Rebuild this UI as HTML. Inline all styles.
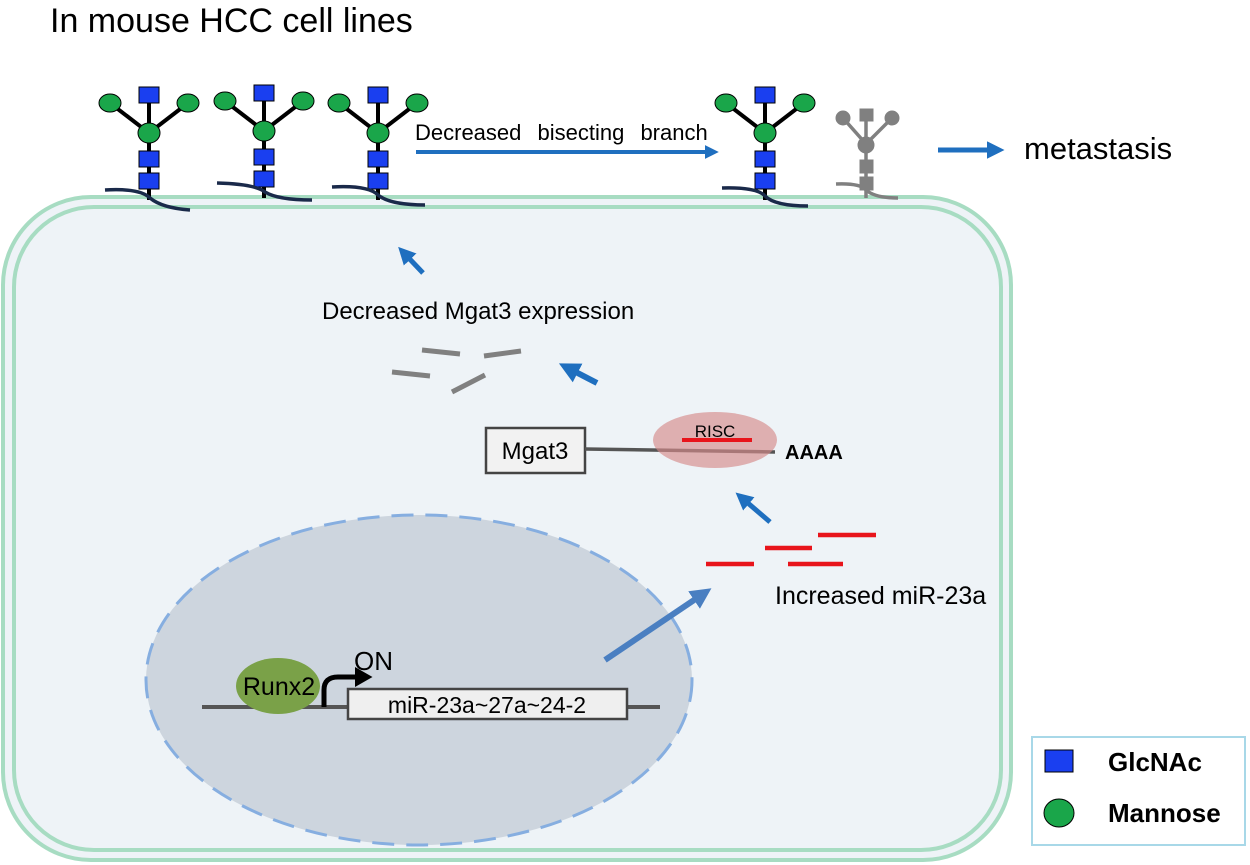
<!DOCTYPE html>
<html><head><style>body{margin:0;background:#fff}svg{display:block}text{font-family:"Liberation Sans",sans-serif}</style></head><body>
<svg width="1250" height="865" viewBox="0 0 1250 865" xmlns="http://www.w3.org/2000/svg">
<defs>
<marker id="ah" markerWidth="3.5" markerHeight="3.5" refX="1.8" refY="1.75" orient="auto" markerUnits="strokeWidth"><path d="M0,0 L3.5,1.75 L0,3.5 z" fill="#1f6fbf"/></marker>
<marker id="ah2" markerWidth="3.5" markerHeight="3.5" refX="1.8" refY="1.75" orient="auto" markerUnits="strokeWidth"><path d="M0,0 L3.5,1.75 L0,3.5 z" fill="#4a7fc1"/></marker>
<marker id="bk" markerWidth="4" markerHeight="4" refX="1" refY="2" orient="auto" markerUnits="strokeWidth"><path d="M0,0 L3.5,2 L0,4 z" fill="#000"/></marker>
<g id="gly">
<line x1="0" y1="95" x2="0" y2="200" stroke="#000" stroke-width="4"/>
<line x1="-39" y1="103" x2="0" y2="133" stroke="#000" stroke-width="4"/>
<line x1="39" y1="103" x2="0" y2="133" stroke="#000" stroke-width="4"/>
<rect x="-10" y="87" width="20" height="16" fill="#1a3ff0" stroke="#000" stroke-width="1"/>
<ellipse cx="-39" cy="103" rx="11" ry="9" fill="#1aa64a" stroke="#000" stroke-width="1"/>
<ellipse cx="39" cy="103" rx="11" ry="9" fill="#1aa64a" stroke="#000" stroke-width="1"/>
<ellipse cx="0" cy="133" rx="11" ry="10" fill="#1aa64a" stroke="#000" stroke-width="1"/>
<rect x="-10" y="151" width="20" height="16" fill="#1a3ff0" stroke="#000" stroke-width="1"/>
<rect x="-10" y="173" width="20" height="16" fill="#1a3ff0" stroke="#000" stroke-width="1"/>
</g>
</defs>
<text x="50" y="32" font-size="34" fill="#000">In mouse HCC cell lines</text>
<rect x="3" y="197" width="1008" height="663" rx="88" fill="#eef3f7" stroke="#a7dcc2" stroke-width="4"/>
<rect x="14" y="207" width="987" height="643" rx="80" fill="none" stroke="#a7dcc2" stroke-width="4"/>
<use href="#gly" x="149"/>
<use href="#gly" x="264" y="-2"/>
<use href="#gly" x="378"/>
<use href="#gly" x="765"/>
<g fill="none" stroke="#1a2a4a" stroke-width="3.5">
<path d="M105,190 Q140,188 150,198 Q162,208 190,210"/>
<path d="M217,183 Q255,184 265,192 Q278,200 312,200"/>
<path d="M332,187 Q368,185 378,195 Q390,205 425,205"/>
<path d="M722,188 Q757,187 765,196 Q775,206 808,206"/>
</g>
<g stroke="#808080" fill="#808080">
<line x1="866" y1="115" x2="866" y2="198" stroke-width="3.5"/>
<line x1="843" y1="118" x2="866" y2="144" stroke-width="3.5"/>
<line x1="892" y1="118" x2="866" y2="144" stroke-width="3.5"/>
<rect x="860" y="109" width="13" height="12"/>
<circle cx="843" cy="118" r="7"/><circle cx="892" cy="118" r="7"/><circle cx="866" cy="145" r="8"/>
<rect x="860" y="160" width="13" height="13"/><rect x="860" y="177" width="13" height="13"/>
<path d="M836,184 Q860,183 866,190 Q875,198 898,198" fill="none" stroke-width="3.5"/>
</g>
<text x="415" y="140" font-size="22" word-spacing="10">Decreased bisecting branch</text>
<line x1="416" y1="152" x2="712" y2="152" stroke="#1f6fbf" stroke-width="4" marker-end="url(#ah)"/>
<line x1="938" y1="150" x2="996" y2="150" stroke="#1f6fbf" stroke-width="5" marker-end="url(#ah)"/>
<text x="1024" y="159" font-size="31">metastasis</text>
<line x1="423" y1="273" x2="404" y2="253" stroke="#1f6fbf" stroke-width="5" marker-end="url(#ah)"/>
<text x="322" y="319" font-size="24">Decreased Mgat3 expression</text>
<g stroke="#808080" stroke-width="5">
<line x1="422" y1="350" x2="460" y2="354"/><line x1="484" y1="356" x2="521" y2="351"/>
<line x1="392" y1="372" x2="430" y2="376"/><line x1="452" y1="392" x2="485" y2="375"/>
</g>
<line x1="597" y1="383" x2="568" y2="368" stroke="#1f6fbf" stroke-width="6" marker-end="url(#ah)"/>
<rect x="486" y="428" width="99" height="45" fill="#f2f2f2" stroke="#444" stroke-width="2.5"/>
<text x="535" y="459" font-size="24" text-anchor="middle">Mgat3</text>
<line x1="585" y1="449" x2="775" y2="452" stroke="#555" stroke-width="3.5"/>
<ellipse cx="715" cy="440" rx="62" ry="28" fill="#d58a8a" opacity="0.65"/>
<text x="715" y="437" font-size="17" text-anchor="middle">RISC</text>
<line x1="682" y1="440" x2="752" y2="440" stroke="#e8141b" stroke-width="4"/>
<text x="785" y="459" font-size="20" font-weight="bold">AAAA</text>
<line x1="770" y1="522" x2="742" y2="498" stroke="#1f6fbf" stroke-width="5" marker-end="url(#ah)"/>
<g stroke="#e8141b" stroke-width="4.5">
<line x1="706" y1="564" x2="754" y2="564"/><line x1="765" y1="548" x2="812" y2="548"/>
<line x1="788" y1="564" x2="843" y2="564"/><line x1="818" y1="535" x2="876" y2="535"/>
</g>
<text x="775" y="604" font-size="25">Increased miR-23a</text>
<ellipse cx="419" cy="680" rx="273" ry="165" fill="#cdd5de" stroke="#86aee0" stroke-width="3" stroke-dasharray="22,12"/>
<line x1="605" y1="660" x2="703" y2="594" stroke="#4a7fc1" stroke-width="6" marker-end="url(#ah2)"/>
<line x1="202" y1="707" x2="660" y2="707" stroke="#555" stroke-width="4"/>
<ellipse cx="278" cy="686" rx="42" ry="28" fill="#7aa148"/>
<text x="279" y="695" font-size="25" text-anchor="middle">Runx2</text>
<path d="M324,707 L324,690 Q324,677 338,677 L360,677" fill="none" stroke="#000" stroke-width="5" marker-end="url(#bk)"/>
<text x="354" y="670" font-size="26">ON</text>
<rect x="348" y="689" width="279" height="30" fill="#efefef" stroke="#444" stroke-width="2.5"/>
<text x="487" y="713" font-size="23" text-anchor="middle">miR-23a~27a~24-2</text>
<rect x="1032" y="737" width="213" height="108" fill="#fff" stroke="#a8d8e8" stroke-width="2"/>
<rect x="1045" y="750" width="28" height="22" fill="#1a3ff0" stroke="#000"/>
<ellipse cx="1059" cy="813" rx="15" ry="14" fill="#1aa64a" stroke="#000"/>
<text x="1108" y="771" font-size="26" font-weight="bold">GlcNAc</text>
<text x="1108" y="822" font-size="26" font-weight="bold">Mannose</text>
</svg>
</body></html>
